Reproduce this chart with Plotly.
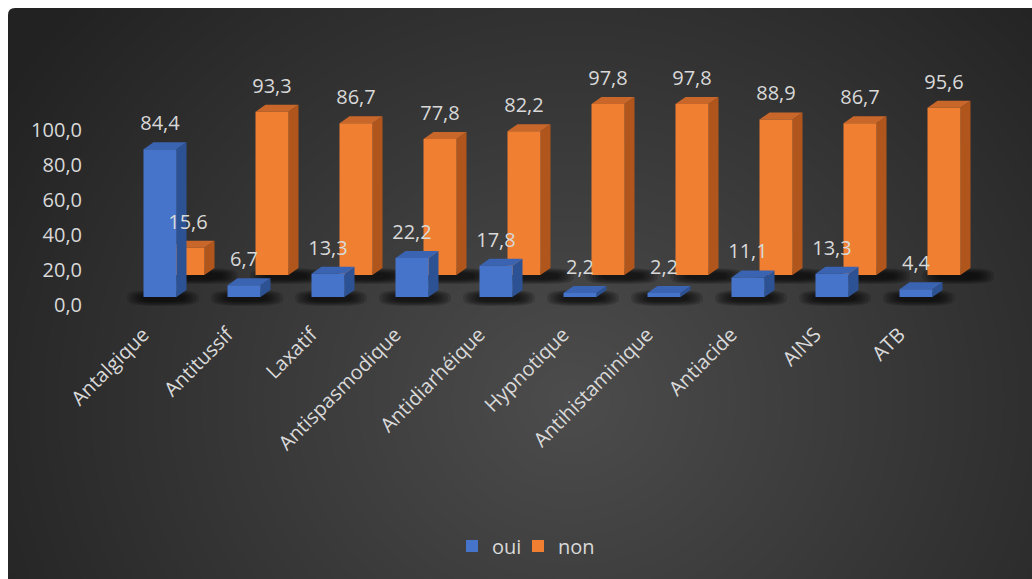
import numpy as np
import plotly.graph_objects as go

# ---- data -------------------------------------------------------------
categories = ["Antalgique", "Antitussif", "Laxatif", "Antispasmodique", "Antidiarhéique",
              "Hypnotique", "Antihistaminique", "Antiacide", "AINS", "ATB"]
oui = [84.4, 6.7, 13.3, 22.2, 17.8, 2.2, 2.2, 11.1, 13.3, 4.4]
non = [15.6, 93.3, 86.7, 77.8, 82.2, 97.8, 97.8, 88.9, 86.7, 95.6]
y_ticks = [0, 20, 40, 60, 80, 100]

# ---- geometry of the pseudo-3D column chart ---------------------------
W, H = 1032, 579
CAT_PX = 84.0          # pixels per category
UNIT_PX = 1.75         # pixels per value unit
FIRST_PX = 160.0       # pixel centre of the first front-row column
ZERO_PX = 305.0        # pixel row of the value 0 on the axis
BAR_W = 33 / CAT_PX    # front face width
DEPTH_X = 10 / CAT_PX  # receding depth of the columns
DEPTH_Y = 7 / UNIT_PX
NON_SHIFT = 28 / CAT_PX  # back row is shifted right ...
OUI_BASE = 4.6           # ... and lifted by the floor perspective
NON_BASE = 17.1
LABEL_GAP = 13.8

TEXT = "#d9d9d9"
FONT = "Open Sans"
FS = 20

x_dom = [90 / W, 1.0]
x_rng = [(90 - FIRST_PX) / CAT_PX, (W - FIRST_PX) / CAT_PX]
y_dom = [1 - 318 / H, 1 - 40 / H]
y_rng = [(ZERO_PX - 318) / UNIT_PX, (ZERO_PX - 40) / UNIT_PX]

idx = np.arange(len(categories), dtype=float)

fig = go.Figure()

# ---- dark radial background (own full-page axes, drawn first) ---------
gx = np.arange(12, W + 12, 8.0)
gy = np.arange(12, H + 12, 8.0)
XX, YY = np.meshgrid(gx, gy)
r = np.sqrt(((XX - 570) / 660) ** 2 + ((YY - 400) / 600) ** 2)
gray = 0x22 + 0x2a * np.clip(1 - r, 0, 1)
fig.add_trace(go.Heatmap(
    x=gx, y=gy, z=gray, zmin=0, zmax=255, zsmooth="best",
    colorscale=[[0, "rgb(0,0,0)"], [1, "rgb(255,255,255)"]],
    showscale=False, hoverinfo="skip", xaxis="x", yaxis="y"))


def poly_trace(xs_list, ys_list, color, axes, opacity=1.0):
    xs, ys = [], []
    for px, py in zip(xs_list, ys_list):
        xs += list(px) + [None]
        ys += list(py) + [None]
    return go.Scatter(x=xs, y=ys, mode="lines", fill="toself", fillcolor=color,
                      line=dict(width=0, color=color), opacity=opacity,
                      hoverinfo="skip", showlegend=False, xaxis=axes[0], yaxis=axes[1])


def shadows(centers, base, shift_px, axes):
    """Soft floor shadow: stacked translucent rounded blobs."""
    t = np.linspace(0, 2 * np.pi, 48)
    ct, st = np.cos(t), np.sin(t)
    traces = []
    for k in range(6):
        hw = (36 - 3 * k) / CAT_PX
        hh = (8 - 0.9 * k) / UNIT_PX
        xs_l, ys_l = [], []
        for c in centers:
            cx = c + shift_px / CAT_PX
            xs_l.append(cx + hw * np.sign(ct) * np.abs(ct) ** 0.6)
            ys_l.append(base - 0.6 + hh * np.sign(st) * np.abs(st) ** 0.6)
        traces.append(poly_trace(xs_l, ys_l, "black", axes, 0.15))
    return traces


def faces(centers, base, values, top_col, side_col, axes):
    tops_x, tops_y, side_x, side_y = [], [], [], []
    for c, v in zip(centers, values):
        L, R = c - BAR_W / 2, c + BAR_W / 2
        T = base + v
        tops_x.append([L, L + DEPTH_X, R + DEPTH_X, R])
        tops_y.append([T, T + DEPTH_Y, T + DEPTH_Y, T])
        side_x.append([R, R, R + DEPTH_X, R + DEPTH_X])
        side_y.append([base, T, T + DEPTH_Y, base + DEPTH_Y])
    return [poly_trace(side_x, side_y, side_col, axes),
            poly_trace(tops_x, tops_y, top_col, axes)]


# back row (non) first, then front row (oui); each row gets a layer for
# shadow + receding faces and a layer above it for the front faces
series = [
    ("non", non, idx + NON_SHIFT, NON_BASE, "#F07F32", "#C9672A", "#B0561C", 14,
     ("x2", "y2"), ("x3", "y3"), "legend2"),
    ("oui", oui, idx, OUI_BASE, "#4574CA", "#3A63B2", "#2D5294", 3,
     ("x4", "y4"), ("x5", "y5"), "legend"),
]

for name, vals, centers, base, front, top, side, sh, ax_back, ax_front, leg in series:
    for tr in shadows(centers, base, sh, ax_back):
        fig.add_trace(tr)
    for tr in faces(centers, base, vals, top, side, ax_back):
        fig.add_trace(tr)
    fig.add_trace(go.Bar(
        x=centers, y=vals, base=[base] * len(vals), width=BAR_W, name=name,
        marker=dict(color=front, line=dict(width=0)), legend=leg,
        hoverinfo="skip", xaxis=ax_front[0], yaxis=ax_front[1]))

# ---- value labels (top layer) -----------------------------------------
for name, vals, centers, base, *_ in series:
    fig.add_trace(go.Scatter(
        x=centers, y=[base + v + LABEL_GAP for v in vals], customdata=vals,
        mode="text", texttemplate="%{customdata:.1f}", textposition="middle center",
        textfont=dict(family=FONT, size=FS, color=TEXT),
        hoverinfo="skip", showlegend=False, xaxis="x5", yaxis="y5"))

hidden = dict(visible=False, fixedrange=True, automargin=False)
layout_axes = dict(
    xaxis=dict(domain=[0, 1], range=[0, W], **hidden),
    yaxis=dict(domain=[0, 1], range=[H, 0], **hidden),
    xaxis2=dict(domain=x_dom, range=x_rng, anchor="y2", automargin=False,
                tickvals=list(idx - 0.2), ticktext=categories, tickangle=-45,
                showgrid=False, zeroline=False, showline=False, ticks="",
                tickfont=dict(family=FONT, size=FS, color=TEXT)),
    yaxis2=dict(domain=y_dom, range=y_rng, anchor="x2", automargin=False,
                tickvals=y_ticks, tickformat=".1f", showgrid=False, zeroline=False,
                showline=False, ticks="", ticklabelstandoff=7,
                tickfont=dict(family=FONT, size=FS, color=TEXT)),
)
for n in (3, 4, 5):
    layout_axes[f"xaxis{n}"] = dict(domain=x_dom, range=x_rng, anchor=f"y{n}", **hidden)
    layout_axes[f"yaxis{n}"] = dict(domain=y_dom, range=y_rng, anchor=f"x{n}", **hidden)

legend_style = dict(orientation="h", xanchor="left", y=0.057, yanchor="middle",
                    bgcolor="rgba(0,0,0,0)", font=dict(family=FONT, size=FS, color=TEXT),
                    itemwidth=30)

fig.update_layout(
    template="none",
    width=W, height=H, margin=dict(l=0, r=0, t=0, b=0, autoexpand=False),
    paper_bgcolor="white", plot_bgcolor="rgba(0,0,0,0)",
    separators=", ", barmode="overlay", showlegend=True,
    font=dict(family=FONT, size=FS, color=TEXT),
    legend=dict(x=452 / W, **legend_style),
    legend2=dict(x=518 / W, **legend_style),
    shapes=[dict(type="path", xref="x", yref="y", path="M 8,8 L 15,8 Q 8,8 8,15 Z",
                 fillcolor="white", line=dict(width=0))],
    **layout_axes,
)

fig.write_html("out.html")
